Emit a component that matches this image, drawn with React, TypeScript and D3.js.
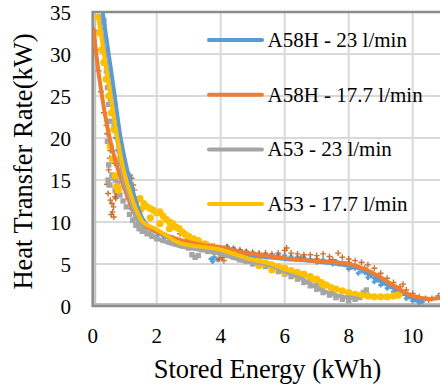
import React from 'react';
import * as d3 from 'd3';

type P = [number, number];

const xTicks = [0, 2, 4, 6, 8, 10, 12];
const xTickLabels = [0, 2, 4, 6, 8, 10];
const yTicks = [0, 5, 10, 15, 20, 25, 30, 35];
const seriesNames = ['A58H - 23 l/min', 'A58H - 17.7 l/min', 'A53 - 23 l/min', 'A53 - 17.7 l/min'];
const xTitle = 'Stored Energy (kWh)';
const yTitle = 'Heat Transfer Rate(kW)';

const blueScatter: P[] = [
  [0.33, 35], [0.36, 33.5], [0.38, 32], [0.4, 30.5], [0.42, 29], [0.46, 27.5], [0.5, 26], [0.55, 24.5],
  [0.6, 23], [0.66, 21.5], [0.72, 20], [0.78, 18.5], [0.85, 17], [0.92, 15.5], [1.0, 14], [1.1, 12.8],
  [1.2, 11.6], [1.32, 10.5], [1.45, 9.7], [1.6, 9.1], [1.8, 8.6], [2.0, 8.3], [2.2, 8.0], [2.4, 7.8],
  [2.6, 7.6], [2.8, 7.5], [3.0, 7.3], [3.2, 7.2], [3.4, 7.0], [3.6, 6.8], [3.7, 5.6], [3.75, 5.3],
  [3.8, 5.8], [3.9, 5.5], [4.0, 6.8], [4.2, 7.1], [4.4, 6.9], [4.6, 6.6], [4.8, 6.5], [5.0, 6.3],
  [5.2, 6.2], [5.4, 6.1], [5.6, 6.0], [5.8, 6.1], [6.0, 6.0], [6.2, 5.9], [6.4, 5.8], [6.6, 5.8],
  [6.8, 5.6], [7.0, 5.5], [7.2, 5.5], [7.4, 5.4], [7.6, 5.3], [7.8, 5.1], [8.0, 4.8], [8.2, 4.5],
  [8.4, 4.2], [8.6, 3.8], [8.8, 3.3], [9.0, 2.9], [9.2, 2.5], [9.4, 2.1], [9.6, 1.7], [9.8, 1.3],
  [10.0, 0.9], [10.15, 0.7], [10.3, 0.5], [8.6, 3.4], [8.8, 2.9], [9.0, 2.5], [9.2, 2.1], [9.4, 1.7],
  [9.6, 1.3], [9.8, 0.9], [10.0, 0.6], [10.2, 0.4], [6.5, 5.5], [7.0, 5.2], [7.5, 5.0], [8.0, 4.4],
  [8.3, 3.9], [8.7, 3.6], [8.9, 3.1], [9.1, 2.7], [9.3, 2.3], [9.5, 1.9], [9.7, 1.5], [9.9, 1.1],
  [10.1, 0.7], [7.1, 5.3], [7.7, 5.0], [8.1, 4.6], [8.5, 4.0],
];

const orangeScatter: P[] = [
  [0.43, 21.5], [0.53, 17.6], [0.5, 16.2], [0.45, 14.5], [0.48, 13.4], [0.55, 12.6], [0.6, 12.2],
  [0.65, 11.8], [0.7, 13.0], [0.72, 12.8], [0.62, 11.2], [0.66, 10.6], [0.58, 10.9], [0.75, 13.4],
  [0.8, 14.2], [0.05, 32.8], [0.1, 30.5], [0.18, 28], [0.26, 25.5], [0.35, 23], [0.45, 20.5],
  [0.55, 18.5], [0.68, 17], [0.85, 15.8], [1.0, 15.0], [1.16, 15.6], [1.22, 15.2], [1.26, 14.4],
  [1.3, 13.8], [1.2, 13.2], [1.35, 12.5], [1.45, 11.2], [1.55, 10.3], [1.7, 9.5], [1.9, 9.0],
  [2.1, 8.7], [2.3, 8.4], [2.5, 8.1], [2.73, 8.6], [2.9, 8.4], [3.0, 7.9], [3.2, 7.6], [3.4, 7.4],
  [3.6, 7.3], [3.8, 7.1], [3.95, 5.6], [4.05, 5.8], [4.1, 5.4], [4.2, 7.0], [4.4, 6.8], [4.6, 6.7],
  [4.8, 6.5], [5.0, 6.4], [5.2, 6.3], [5.4, 6.3], [5.6, 6.2], [5.8, 6.3], [6.0, 6.6], [6.06, 6.9],
  [6.2, 6.3], [6.4, 6.2], [6.6, 6.1], [6.8, 6.1], [7.0, 6.0], [7.2, 6.2], [7.4, 5.9], [7.67, 6.3],
  [7.8, 5.8], [8.0, 5.6], [8.2, 5.4], [8.4, 5.2], [8.6, 4.9], [8.8, 4.5], [9.0, 3.9], [9.2, 3.3],
  [9.4, 2.8], [9.6, 2.3], [9.7, 2.6], [9.8, 1.9], [10.0, 1.5], [10.2, 1.1], [10.4, 0.9], [10.6, 0.9],
  [10.8, 1.2], [10.9, 1.5], [6.5, 5.7], [7.0, 5.6], [7.5, 5.5], [8.0, 5.2], [8.5, 4.5], [9.0, 3.4],
  [9.5, 2.2], [10.0, 1.1], [10.5, 0.7],
];

const grayScatter: P[] = [
  [0.35, 34], [0.38, 32], [0.4, 30], [0.43, 28], [0.46, 26], [0.5, 24], [0.55, 22], [0.46, 19.6],
  [0.5, 16.8], [0.48, 15], [0.54, 14.4], [0.6, 15.6], [0.66, 15.2], [0.72, 15.0], [0.78, 14.6],
  [0.7, 13.8], [0.85, 13.2], [0.95, 12.5], [1.05, 11.8], [1.15, 10.9], [1.25, 10.2], [1.35, 9.6],
  [1.45, 9.2], [1.55, 8.9], [1.7, 8.6], [1.85, 8.3], [2.0, 8.0], [2.2, 7.8], [2.4, 7.6], [2.6, 7.4],
  [2.8, 7.2], [3.0, 6.9], [3.1, 6.1], [3.2, 5.8], [3.3, 6.0], [3.4, 6.7], [3.6, 6.5], [3.8, 6.4],
  [4.0, 6.2], [4.2, 6.0], [4.4, 5.8], [4.6, 5.5], [4.8, 5.3], [5.0, 5.0], [5.2, 4.9], [5.4, 4.7],
  [5.6, 4.4], [5.8, 4.1], [6.0, 3.8], [6.2, 3.5], [6.4, 3.2], [6.6, 2.8], [6.8, 2.4], [7.0, 2.0],
  [7.2, 1.6], [7.4, 1.3], [7.6, 1.0], [7.8, 0.8], [8.0, 0.6], [8.2, 0.8], [8.35, 1.0], [8.46, 1.6],
  [8.55, 1.9], [4.5, 5.9], [5.0, 5.3], [5.5, 4.9], [6.0, 4.2], [6.5, 3.5], [7.0, 2.5], [7.5, 1.6],
  [8.0, 1.0],
];

const yellowScatter: P[] = [
  [0.17, 34.4], [0.22, 32.5], [0.28, 30.5], [0.35, 29], [0.42, 27], [0.5, 25], [0.58, 23], [0.66, 21],
  [0.55, 19], [0.62, 17.5], [0.7, 15.5], [0.75, 14.2], [0.8, 13.8], [0.85, 17.5],
  [0.95, 16], [1.05, 14.5], [1.15, 13.2], [1.25, 12.6], [1.37, 12.6], [1.48, 12.8], [1.6, 12.2],
  [1.7, 11.8], [1.8, 11.6], [1.9, 11.4], [2.0, 11.1], [2.1, 11.2], [2.2, 10.7], [2.3, 10.3], [2.4, 10.0],
  [2.5, 9.8], [2.6, 9.4], [2.7, 9.2], [2.8, 8.8], [2.9, 8.5], [3.0, 8.3], [3.15, 8.0], [3.3, 7.8],
  [3.5, 7.4], [3.7, 7.1], [3.9, 6.9], [4.1, 6.8], [4.3, 6.3], [4.4, 5.9], [4.6, 6.2], [4.8, 5.8],
  [5.0, 5.6], [5.2, 5.3], [5.4, 5.1], [5.6, 4.9], [5.8, 4.7], [6.0, 4.5], [6.2, 4.2], [6.4, 4.0],
  [6.6, 3.8], [6.8, 3.5], [7.0, 3.2], [7.15, 2.8], [7.3, 2.5], [7.45, 2.2], [7.6, 2.0], [7.8, 1.8],
  [8.0, 1.6], [8.2, 1.4], [8.4, 1.3], [8.6, 1.2], [8.8, 1.1], [9.0, 1.1], [9.2, 1.1], [9.4, 1.2],
  [9.55, 1.3], [9.6, 1.6], [5.2, 4.8], [5.6, 4.3], [6.0, 4.0], [6.4, 3.6], [6.8, 3.0], [7.2, 2.4],
  [1.5, 11.5], [1.8, 10.5], [2.1, 9.8], [2.4, 9.2],
];

const blueLine: P[] = [
  [0.31, 35], [0.5, 30], [0.69, 25], [0.875, 20], [1.16, 15], [1.62, 10], [2.0, 8.8], [2.7, 7.7],
  [3.5, 7.0], [4.0, 6.7], [4.8, 6.1], [6.0, 5.6], [7.0, 5.3], [8.0, 4.8], [8.5, 4.3], [9.0, 3.3],
  [9.5, 2.1], [10.0, 1.1], [10.3, 0.6],
];
const orangeLine: P[] = [
  [0.04, 32.8], [0.11, 30], [0.29, 25], [0.53, 20], [0.9, 15], [1.47, 10], [2.0, 8.85], [2.73, 7.86],
  [3.5, 7.2], [4.0, 7.0], [4.8, 6.3], [6.0, 5.7], [7.0, 5.35], [8.0, 5.0], [8.5, 4.4], [9.0, 3.4],
  [9.5, 2.2], [10.0, 1.2], [10.5, 0.85], [10.9, 1.0], [11.2, 1.2],
];
const grayLine: P[] = [
  [0.2, 34.5], [0.38, 30], [0.57, 25], [0.76, 20], [0.98, 15], [1.2, 12.5], [1.42, 10], [1.75, 8.6],
  [2.1, 7.9], [2.73, 7.1], [3.5, 6.6], [4.0, 6.2], [4.8, 5.3], [5.5, 4.9], [6.0, 4.1], [6.5, 3.3],
  [7.0, 2.2], [7.5, 1.4], [8.0, 1.0], [8.4, 1.2],
];
const yellowLine: P[] = [
  [0.17, 34.4], [0.35, 30], [0.56, 25], [0.77, 20], [1.05, 15], [1.57, 10], [2.0, 9.1], [2.73, 7.5],
  [3.5, 7.0], [4.0, 6.7], [4.5, 6.1], [5.0, 5.5], [5.5, 5.1], [6.0, 4.4], [6.5, 3.8], [7.0, 3.1],
  [7.5, 2.2], [8.0, 1.6], [8.5, 1.2], [9.0, 1.1], [9.6, 1.2],
];

const lineColors = ['#5b9bd5', '#ed7d31', '#a5a5a5', '#ffc000'];
const FONT = "Liberation Serif, Tinos, Times New Roman, Noto Serif, DejaVu Serif, FreeSerif, Nimbus Roman, serif";

export default function App() {
  const W = 440, H = 386;
  const left = 92.7, top = 12, bottom = 306;
  const x = d3.scaleLinear().domain([0, 12]).range([left, left + 384]);
  const y = d3.scaleLinear().domain([0, 35]).range([bottom, top]);
  const line = d3.line<P>().x(d => x(d[0])).y(d => y(d[1])).curve(d3.curveCatmullRom.alpha(0.5));
  const lines = [blueLine, orangeLine, grayLine, yellowLine];
  const crossPath = (cx: number, cy: number, r: number) => `M${cx - r},${cy}H${cx + r}M${cx},${cy - r}V${cy + r}`;

  return (
    <div style={{ position: 'absolute', left: 0, top: 0, fontFamily: FONT }}>
      <svg width={W} height={H} style={{ display: 'block', background: '#fff', fontFamily: FONT }}>
        <defs>
          <clipPath id="plot">
            <rect x={left} y={top} width={x(12) - left} height={bottom - top} />
          </clipPath>
        </defs>
        <rect x={0} y={0} width={W} height={H} fill="#fff" />
        {yTicks.map(t => (
          <line key={'gy' + t} x1={left} x2={x(12)} y1={y(t)} y2={y(t)} stroke="#d9d9d9" strokeWidth={2} />
        ))}
        {xTicks.map(t => (
          <line key={'gx' + t} x1={x(t)} x2={x(t)} y1={top} y2={bottom} stroke="#d9d9d9" strokeWidth={2} />
        ))}
        <line x1={left + 2.5} x2={left + 2.5} y1={top} y2={bottom} stroke="#bfbfbf" strokeWidth={2} />
        <line x1={left} x2={x(12)} y1={bottom - 2} y2={bottom - 2} stroke="#bfbfbf" strokeWidth={2} />
        <rect x={left} y={top} width={x(12) - left} height={bottom - top} fill="none" stroke="#8c8c8c" strokeWidth={2.5} />

        <g clipPath="url(#plot)">
          {blueScatter.map((d, i) => (
            <path key={'b' + i} d={crossPath(x(d[0]), y(d[1]), 2.5)} stroke="#5b9bd5" strokeWidth={2} />
          ))}
          {orangeScatter.map((d, i) => (
            <path key={'o' + i} d={crossPath(x(d[0]), y(d[1]), 3)} stroke="#c55a11" strokeWidth={1.4} opacity={0.85} />
          ))}
          {grayScatter.map((d, i) => (
            <rect key={'g' + i} x={x(d[0]) - 2.7} y={y(d[1]) - 2.7} width={5.4} height={5.4} fill="#a5a5a5" />
          ))}
          {yellowScatter.map((d, i) => (
            <circle key={'y' + i} cx={x(d[0])} cy={y(d[1])} r={3.6} fill="#ffc000" />
          ))}
          {lines.map((l, i) => (
            <path key={'l' + i} d={line(l) || ''} fill="none" stroke={lineColors[i]} strokeWidth={4} strokeLinecap="round" />
          ))}
        </g>

        {yTicks.map(t => (
          <text key={'ty' + t} x={71} y={y(t) + 7.5} textAnchor="end" fontSize={21} fill="#000" fontFamily={FONT}>{t}</text>
        ))}
        {xTickLabels.map(t => (
          <text key={'tx' + t} x={x(t)} y={343} textAnchor="middle" fontSize={21} fill="#000" fontFamily={FONT}>{t}</text>
        ))}
        <text x={267.5} y={378} textAnchor="middle" fontSize={26.5} fill="#000" fontFamily={FONT}>{xTitle}</text>
        <text transform={`translate(32,161.5) rotate(-90)`} textAnchor="middle" fontSize={26.5} fill="#000" fontFamily={FONT}>{yTitle}</text>

        {seriesNames.map((n, i) => {
          const ly = 40 + i * 54.7;
          return (
            <g key={'lg' + i}>
              <line x1={209} x2={262} y1={ly} y2={ly} stroke={lineColors[i]} strokeWidth={4} strokeLinecap="round" />
              <text x={267.5} y={ly + 7} fontSize={21} fill="#000" fontFamily={FONT}>{n}</text>
            </g>
          );
        })}
      </svg>
    </div>
  );
}
